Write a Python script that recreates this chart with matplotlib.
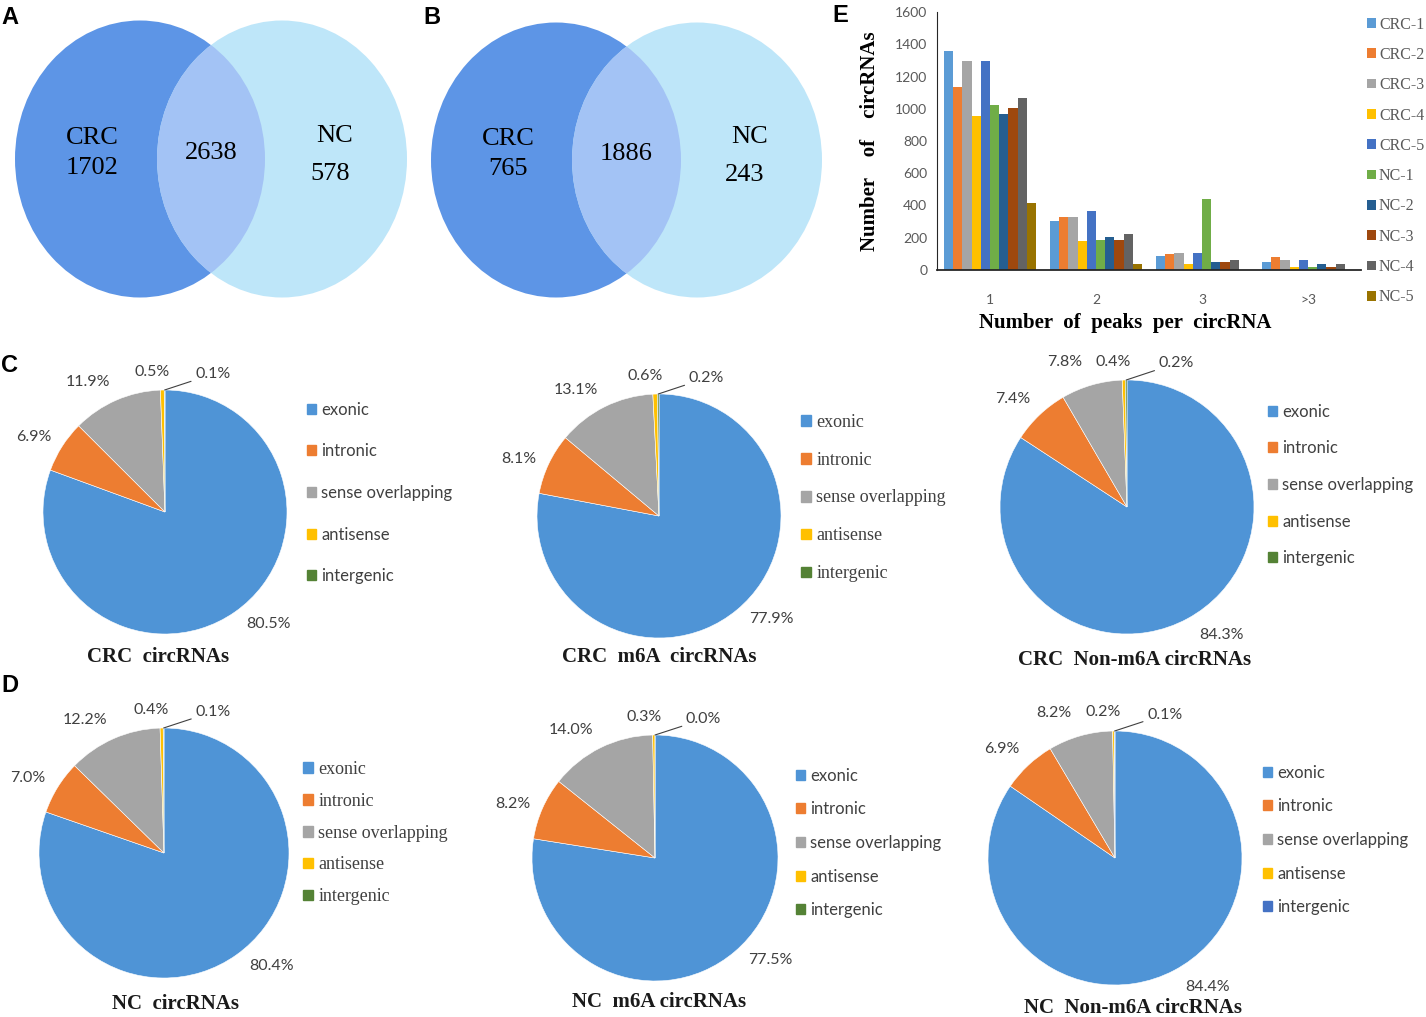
import numpy as np
import matplotlib
matplotlib.use("Agg")
import matplotlib.pyplot as plt
from matplotlib.patches import Ellipse, Patch

W, H = 1426, 1017

# ---- data ----
venn_a = {"crc": 1702, "both": 2638, "nc": 578}
venn_b = {"crc": 765, "both": 1886, "nc": 243}

region_names = ["exonic", "intronic", "sense overlapping", "antisense", "intergenic"]
crc_all = [80.5, 6.9, 11.9, 0.5, 0.1]
crc_m6a = [77.9, 8.1, 13.1, 0.6, 0.2]
crc_non = [84.3, 7.4, 7.8, 0.4, 0.2]
nc_all = [80.4, 7.0, 12.2, 0.4, 0.1]
nc_m6a = [77.5, 8.2, 14.0, 0.3, 0.0]
nc_non = [84.4, 6.9, 8.2, 0.2, 0.1]

peak_groups = ["1", "2", "3", ">3"]
sample_names = ["CRC-1", "CRC-2", "CRC-3", "CRC-4", "CRC-5",
                "NC-1", "NC-2", "NC-3", "NC-4", "NC-5"]
crc1 = [1360, 306, 87, 47]
crc2 = [1134, 331, 97, 79]
crc3 = [1294, 331, 105, 62]
crc4 = [958, 182, 38, 21]
crc5 = [1294, 364, 105, 62]
nc1 = [1025, 188, 438, 20]
nc2 = [967, 205, 48, 37]
nc3 = [1004, 188, 48, 21]
nc4 = [1068, 221, 62, 37]
nc5 = [414, 37, 0, 0]

bar_colors = ["#5B9BD5", "#ED7D31", "#A5A5A5", "#FFC000", "#4472C4",
              "#70AD47", "#255E91", "#9E480E", "#636363", "#997300"]
pie_colors = ["#4F94D6", "#ED7D31", "#A5A5A5", "#FFC000", "#548235"]

SERIF = "Liberation Serif"
SANS = "Lato"


def fx(x):
    return x / W


def fy(y):
    return 1 - y / H


def add_ax(x0, y0, w, h):
    return fig.add_axes([fx(x0), fy(y0 + h), w / W, h / H])


fig = plt.figure(figsize=(W / 100, H / 100), dpi=100)

# ---- panel letters ----
for letter, (x, y) in zip("ABECD", [(10, 17), (432, 17), (840, 15), (10, 365), (10, 686)]):
    fig.text(fx(x), fy(y), letter, fontsize=17, fontweight="bold",
             family="Liberation Sans", ha="center", va="center")

# ---- Venn diagrams A and B ----
vax = add_ax(0, 0, 840, 310)
vax.set_xlim(0, 840)
vax.set_ylim(310, 0)
vax.axis("off")


def venn(ax, cl, cr, cy, w, h, counts):
    left = Ellipse((cl, cy), w, h, color="#5D95E6", lw=0)
    right = Ellipse((cr, cy), w, h, color="#BEE6F9", lw=0)
    lens = Ellipse((cl, cy), w, h, color="#A3C3F5", lw=0)
    ax.add_patch(left)
    ax.add_patch(right)
    ax.add_patch(lens)
    lens.set_clip_path(Ellipse((cr, cy), w, h, transform=ax.transData))
    mid = (cl + w / 2 + cr - w / 2) / 2
    kw = dict(family=SERIF, fontsize=19, ha="center", va="center")
    ax.text(cl - 48, cy - 21, "CRC", **kw)
    ax.text(cl - 48, cy + 9, str(counts["crc"]), **kw)
    ax.text(mid, cy - 6, str(counts["both"]), **kw)
    ax.text(cr + 53, cy - 23, "NC", **kw)
    ax.text(cr + 48, cy + 15, str(counts["nc"]), **kw)


venn(vax, 140, 282, 159, 250, 277, venn_a)
venn(vax, 556, 697, 160, 250, 275, venn_b)

# ---- E: bar chart ----
bax = add_ax(937, 12, 424, 258)
series = [crc1, crc2, crc3, crc4, crc5, nc1, nc2, nc3, nc4, nc5]
x = np.arange(len(peak_groups))
bw = 0.087
handles = []
for i, (vals, name, col) in enumerate(zip(series, sample_names, bar_colors)):
    b = bax.bar(x + (i - 4.5) * bw, vals, width=bw, color=col, label=name)
    handles.append(b)
bax.set_xlim(-0.5, 3.5)
bax.set_ylim(0, 1600)
bax.set_yticks(np.arange(0, 1601, 200))
bax.set_xticks(x)
bax.set_xticklabels(peak_groups)
bax.tick_params(length=0, labelsize=10, labelcolor="#595959", pad=7)
bax.tick_params(axis="x", pad=17)
for lab in bax.get_xticklabels() + bax.get_yticklabels():
    lab.set_family(SANS)
for s in ["top", "right"]:
    bax.spines[s].set_visible(False)
bax.spines["left"].set_color("#262626")
bax.spines["bottom"].set_color("#262626")
bax.spines["bottom"].set_linewidth(1.3)
bax.set_ylabel("Number    of    circRNAs", family=SERIF, fontsize=15,
               fontweight="bold")
bax.yaxis.set_label_coords((870 - 937) / 424, (270 - 141) / 258)
bax.set_xlabel("Number  of  peaks  per  circRNA", family=SERIF, fontsize=15,
               fontweight="bold")
bax.xaxis.set_label_coords((1125 - 937) / 424, -(323 - 270) / 258)
bax.xaxis.label.set_va("center")
bax.yaxis.label.set_va("center")
fig.legend(handles=handles, loc="center left", bbox_to_anchor=(fx(1367), fy(161)),
           frameon=False, prop={"family": SERIF, "size": 11.5}, labelcolor="#595959",
           handlelength=0.55, handleheight=0.55, handletextpad=0.2,
           labelspacing=30.3 / (11.5 / 0.72) - 1.0, borderpad=0, borderaxespad=0)

# ---- C / D: pie charts ----
pies = [
    (crc_all, 165, 512, 122, (307, 493, 41), SANS, "CRC  circRNAs", (158, 657)),
    (crc_m6a, 659, 516, 122, (801, 498, 39), SERIF, "CRC  m6A  circRNAs", (659, 657)),
    (crc_non, 1127, 507, 127, (1268, 485, 36), SANS, "CRC  Non-m6A circRNAs", (1135, 660)),
    (nc_all, 164, 853, 125, (303, 833, 33), SERIF, "NC  circRNAs", (175, 1004)),
    (nc_m6a, 655, 858, 123, (796, 843, 33), SANS, "NC  m6A circRNAs", (659, 1002)),
    (nc_non, 1115, 858, 127, (1263, 840, 33), SANS, "NC  Non-m6A circRNAs", (1133, 1008)),
]

# angular nudges (deg) and radial distances for the outside labels
nudge = [8, 3, 7, 4, -17]
dist = [1.25, 1.24, 1.24, 1.15, 1.18]

for k, (vals, cx, cy, R, leg, lfam, title, tpos) in enumerate(pies):
    S = 1.25 * R
    ax = add_ax(cx - S, cy - S, 2 * S, 2 * S)
    cols = list(pie_colors)
    if k == 5:
        cols[4] = "#4472C4"
    wedges, _ = ax.pie(vals, colors=cols, startangle=90, counterclock=False,
                       radius=1, wedgeprops=dict(lw=0.4, edgecolor="white"))
    ax.set_xlim(-1.25, 1.25)
    ax.set_ylim(-1.25, 1.25)
    for j, (wdg, v) in enumerate(zip(wedges, vals)):
        mid = np.deg2rad((wdg.theta1 + wdg.theta2) / 2)
        a = mid + np.deg2rad(nudge[j])
        pos = (dist[j] * np.cos(a), dist[j] * np.sin(a))
        kw = dict(family=SANS, fontsize=11.5, color="#404040", ha="center", va="center")
        if j == 4:
            ax.annotate(f"{v:.1f}%", xy=(np.cos(mid), np.sin(mid)),
                        xytext=(pos[0] + 0.05, pos[1]),
                        arrowprops=dict(arrowstyle="-", color="#404040", lw=0.8,
                                        shrinkA=1, shrinkB=0), **kw)
        else:
            ax.text(pos[0], pos[1], f"{v:.1f}%", **kw)

    lx, lcy, sp = leg
    fs = 12 if lfam == SANS else 13
    fpx = fs / 0.72
    hfac = 0.92 if lfam == SANS else 1.0
    handles = [Patch(color=c) for c in cols]
    fig.legend(handles=handles, labels=region_names, loc="center left",
               bbox_to_anchor=(fx(lx), fy(lcy)), frameon=False,
               prop={"family": lfam, "size": fs}, labelcolor="#404040",
               handlelength=0.55, handleheight=0.55, handletextpad=0.3,
               labelspacing=sp / fpx - hfac, borderpad=0, borderaxespad=0)

    fig.text(fx(tpos[0]), fy(tpos[1]), title, family=SERIF, fontsize=15,
             fontweight="bold", ha="center", va="center", color="#1a1a1a")

fig.savefig("out.png", dpi=100)
